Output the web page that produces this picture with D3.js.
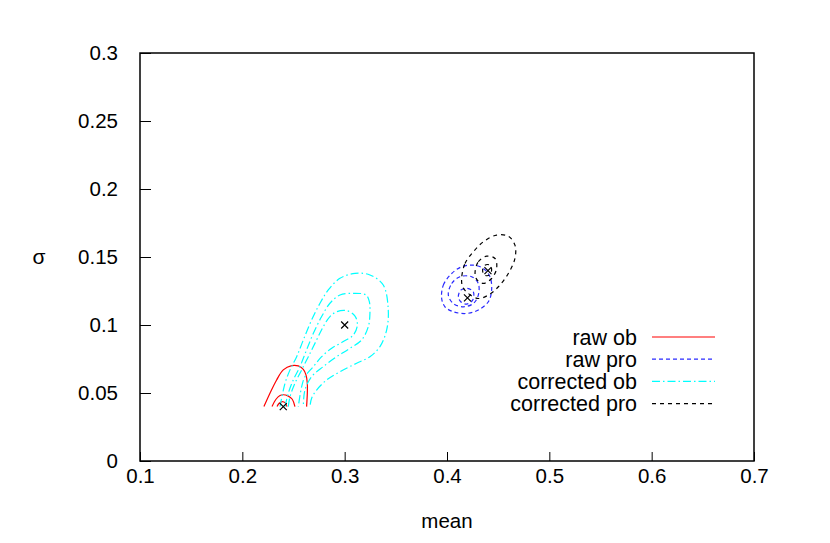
<!DOCTYPE html>
<html>
<head>
<meta charset="utf-8">
<script src="https://cdn.jsdelivr.net/npm/d3@7"></script>
<style>
  body { margin: 0; background: #fff; }
  svg text { font-family: "Liberation Sans", Arial, sans-serif; fill: #000; }
  .axis text { font-size: 20.5px; }
  .axis line { stroke: #000; stroke-width: 1; }
  .legend text { font-size: 21.5px; }
</style>
</head>
<body>
<div id="chart"></div>
<script>
const WIDTH = 830, HEIGHT = 543;
const M = { top: 53, right: 76, bottom: 82, left: 140 };
const innerW = WIDTH - M.left - M.right;
const innerH = HEIGHT - M.top - M.bottom;

const xTicks = [0.1, 0.2, 0.3, 0.4, 0.5, 0.6, 0.7];
const yTicks = [0, 0.05, 0.1, 0.15, 0.2, 0.25, 0.3];

// contours as [mean, sigma]; open ones are cut at sigma = 0.04
const rawOb = [
  [[0.2211,0.040],[0.2270,0.0498],[0.2335,0.0596],[0.2400,0.0670],[0.2482,0.0701],[0.2547,0.0699],
   [0.2596,0.0674],[0.2622,0.0633],[0.2635,0.0572],[0.2635,0.0498],[0.2628,0.040]],
  [[0.229,0.040],[0.2329,0.0454],[0.2368,0.0482],[0.2400,0.0487],[0.2445,0.0479],[0.2488,0.0454],[0.2514,0.040]],
  [[0.2339,0.040],[0.2360,0.0425],[0.2392,0.0437],[0.2420,0.0427],[0.2436,0.040]]
];
const rawPro = [
  [[0.3948,0.1195],[0.3964,0.1293],[0.4046,0.1379],[0.4143,0.1428],[0.4257,0.1440],[0.4355,0.1416],[0.4420,0.1355],
   [0.4436,0.1256],[0.4404,0.1171],[0.4306,0.1110],[0.4192,0.1085],[0.4062,0.1097],[0.3980,0.1134]],
  [[0.4013,0.1220],[0.4046,0.1305],[0.4127,0.1355],[0.4241,0.1355],[0.4306,0.1305],[0.4306,0.1220],
   [0.4257,0.1158],[0.4160,0.1134],[0.4062,0.1158]],
  [[0.4111,0.1207],[0.4134,0.1256],[0.4199,0.1269],[0.4257,0.1244],[0.4251,0.1183],[0.4192,0.1154],[0.4134,0.1171]]
];
const corrOb = [
  [[0.2368,0.040],[0.2417,0.0571],[0.2466,0.0670],[0.2531,0.0767],[0.2596,0.0890],[0.2677,0.1037],[0.2759,0.1160],
   [0.2840,0.1258],[0.2954,0.1343],[0.3101,0.1380],[0.3247,0.1368],[0.3377,0.1294],[0.3426,0.1111],[0.3410,0.0963],
   [0.3345,0.0841],[0.3247,0.0767],[0.3117,0.0719],[0.2954,0.0657],[0.2824,0.0596],[0.2726,0.0522],[0.2677,0.0461],[0.2661,0.040]],
  [[0.2417,0.040],[0.2449,0.0498],[0.2498,0.0596],[0.2563,0.0694],[0.2628,0.0817],[0.2694,0.0939],[0.2775,0.1062],
   [0.2856,0.1160],[0.2954,0.1221],[0.3084,0.1233],[0.3208,0.1221],[0.3241,0.1172],[0.3247,0.1086],[0.3231,0.0988],
   [0.3166,0.0890],[0.3052,0.0829],[0.2922,0.0767],[0.2791,0.0694],[0.2677,0.0620],[0.2612,0.0522],[0.2596,0.040]],
  [[0.2449,0.040],[0.2466,0.0473],[0.2514,0.0571],[0.2580,0.0670],[0.2645,0.0767],[0.2726,0.0890],[0.2791,0.0988],
   [0.2856,0.1062],[0.2922,0.1098],[0.3019,0.1106],[0.3101,0.1066],[0.3124,0.1000],[0.3085,0.0927],[0.2987,0.0878],
   [0.2873,0.0829],[0.2775,0.0767],[0.2694,0.0694],[0.2612,0.0620],[0.2580,0.0547],[0.2547,0.040]]
];
const corrPro = [
  [[0.4143,0.1342],[0.4176,0.1452],[0.4257,0.1538],[0.4355,0.1612],[0.4485,0.1661],[0.4599,0.1653],[0.4664,0.1587],
   [0.4664,0.1489],[0.4599,0.1379],[0.4502,0.1281],[0.4404,0.1220],[0.4306,0.1195],[0.4208,0.1232],[0.4153,0.1281]],
  [[0.4274,0.1379],[0.4306,0.1465],[0.4388,0.1506],[0.4469,0.1489],[0.4485,0.1416],[0.4436,0.1342],[0.4355,0.1306],[0.4296,0.1330]],
  [[0.4348,0.1404],[0.4371,0.1440],[0.4420,0.1440],[0.4436,0.1404],[0.4414,0.1367],[0.4365,0.1367]]
];
const modes = [[0.24, 0.04], [0.42, 0.12], [0.30, 0.10], [0.44, 0.14]];

const seriesNames = ["raw ob", "raw pro", "corrected ob", "corrected pro"];
const seriesColors = ["#ff0000", "#2a2aff", "#00ffff", "#000000"];
const seriesDash = [null, "4,3", "8,3,1.5,3", "4,4"];
const seriesData = [rawOb, rawPro, corrOb, corrPro];
const seriesClosed = [false, true, false, true];

const svg = d3.select("#chart").append("svg")
  .attr("width", WIDTH).attr("height", HEIGHT);
const g = svg.append("g").attr("transform", `translate(${M.left},${M.top})`);

const x = d3.scaleLinear().domain([0.1, 0.7]).range([0, innerW]);
const y = d3.scaleLinear().domain([0, 0.3]).range([innerH, 0]);
const fmt = d => d === 0 ? "0" : String(+d.toFixed(2));

// axes, ticks pointing inward
const xa = g.append("g").attr("class","axis")
  .attr("transform", `translate(0,${innerH})`)
  .call(d3.axisBottom(x).tickValues(xTicks).tickSize(-9).tickPadding(7).tickFormat(fmt));
const ya = g.append("g").attr("class","axis")
  .call(d3.axisLeft(y).tickValues(yTicks).tickSize(-11).tickPadding(22).tickFormat(fmt));
xa.select(".domain").remove();
ya.select(".domain").remove();

g.append("rect").attr("width", innerW).attr("height", innerH)
  .attr("fill","none").attr("stroke","#000").attr("stroke-width",1.5);

// contours
const lineOpen = d3.line().x(d => x(d[0])).y(d => y(d[1])).curve(d3.curveCatmullRom);
const lineClosed = d3.line().x(d => x(d[0])).y(d => y(d[1])).curve(d3.curveCatmullRomClosed);

seriesData.forEach((set, i) => {
  g.selectAll(null).data(set).join("path")
    .attr("d", seriesClosed[i] ? lineClosed : lineOpen)
    .attr("fill","none")
    .attr("stroke", seriesColors[i])
    .attr("stroke-width", 1.2)
    .attr("stroke-dasharray", seriesDash[i]);
});

// mode markers
g.selectAll(".mode").data(modes).join("path")
  .attr("class","mode")
  .attr("d", d => {
    const cx = x(d[0]), cy = y(d[1]), s = 3.5;
    return `M${cx-s},${cy-s}L${cx+s},${cy+s}M${cx-s},${cy+s}L${cx+s},${cy-s}`;
  })
  .attr("stroke","#000").attr("stroke-width",1.2);

// legend
const leg = svg.append("g").attr("class","legend");
seriesNames.forEach((name, i) => {
  const cy = 337 + i * 22.2;
  leg.append("text").attr("x", 637).attr("y", cy + 7.5)
    .attr("text-anchor","end").text(name);
  leg.append("line").attr("x1", 652).attr("x2", 715).attr("y1", cy).attr("y2", cy)
    .attr("stroke", seriesColors[i]).attr("stroke-width", 1.2)
    .attr("stroke-dasharray", seriesDash[i]);
});

// axis labels
svg.append("text").attr("x", M.left + innerW/2).attr("y", 528)
  .attr("text-anchor","middle").style("font-size","20.5px").text("mean");
svg.append("text").attr("x", 39).attr("y", 264)
  .attr("text-anchor","middle").style("font-size","21px").text("σ");
</script>
</body>
</html>
